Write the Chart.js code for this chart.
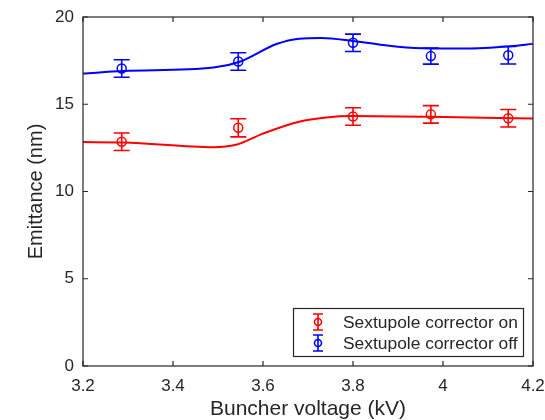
<!DOCTYPE html>
<html>
<head>
<meta charset="utf-8">
<script src="https://cdn.jsdelivr.net/npm/chart.js@4"></script>
<style>
  html, body { margin: 0; padding: 0; background: #fff; }
  #wrap { width: 545px; height: 420px; }
</style>
</head>
<body>
<div id="wrap"><canvas id="chart" width="545" height="420"></canvas></div>
<script>
// measured points with error bars
const voltage = [3.286, 3.545, 3.8, 3.973, 4.145];
const emitOn = [12.85, 13.65, 14.3, 14.42, 14.2];
const errOn = [0.5, 0.52, 0.5, 0.5, 0.5];
const emitOff = [17.05, 17.45, 18.52, 17.76, 17.81];
const errOff = [0.5, 0.5, 0.5, 0.46, 0.5];

// fitted curves
const curveOnX = [3.2, 3.29, 3.49, 3.54, 3.6, 3.68, 3.74, 3.8, 3.97, 4.2];
const curveOnY = [12.83, 12.81, 12.54, 12.68, 13.32, 14.0, 14.24, 14.32, 14.28, 14.18];
const curveOffX = [3.2, 3.29, 3.49, 3.55, 3.63, 3.68, 3.73, 3.8, 3.9, 3.97, 4.05, 4.15, 4.2];
const curveOffY = [16.76, 16.9, 17.1, 17.45, 18.45, 18.76, 18.8, 18.63, 18.29, 18.2, 18.2, 18.33, 18.46];

const xTicks = [3.2, 3.4, 3.6, 3.8, 4, 4.2];
const yTicks = [0, 5, 10, 15, 20];

const seriesNames = ["Sextupole corrector on", "Sextupole corrector off"];
const RED = "#ff0000";
const BLUE = "#0000ff";
const AXIS = "#262626";
const FONT = "'Liberation Sans', Arial, Helvetica, sans-serif";

const toXY = (xs, ys) => xs.map((x, i) => ({ x: x, y: ys[i] }));

const errorBars = {
  id: "errorBars",
  afterDatasetsDraw(chart) {
    const ctx = chart.ctx;
    const xs = chart.scales.x;
    const ys = chart.scales.y;
    const sets = [
      { y: emitOn, e: errOn, c: RED },
      { y: emitOff, e: errOff, c: BLUE },
    ];
    ctx.save();
    ctx.lineWidth = 1.6;
    sets.forEach((s) => {
      ctx.strokeStyle = s.c;
      voltage.forEach((v, i) => {
        const px = xs.getPixelForValue(v);
        const top = ys.getPixelForValue(s.y[i] + s.e[i]);
        const bot = ys.getPixelForValue(s.y[i] - s.e[i]);
        ctx.beginPath();
        ctx.moveTo(px, top);
        ctx.lineTo(px, bot);
        ctx.moveTo(px - 8, top);
        ctx.lineTo(px + 8, top);
        ctx.moveTo(px - 8, bot);
        ctx.lineTo(px + 8, bot);
        ctx.stroke();
      });
    });
    ctx.restore();
  },
};

const frame = {
  id: "frame",
  afterDraw(chart) {
    const ctx = chart.ctx;
    const a = chart.chartArea;
    const xs = chart.scales.x;
    const ys = chart.scales.y;
    ctx.save();
    ctx.strokeStyle = AXIS;
    ctx.lineWidth = 1.2;
    ctx.strokeRect(a.left, a.top, a.right - a.left, a.bottom - a.top);
    ctx.beginPath();
    xTicks.forEach((v) => {
      const p = xs.getPixelForValue(v);
      ctx.moveTo(p, a.bottom);
      ctx.lineTo(p, a.bottom - 5);
      ctx.moveTo(p, a.top);
      ctx.lineTo(p, a.top + 5);
    });
    yTicks.forEach((v) => {
      const p = ys.getPixelForValue(v);
      ctx.moveTo(a.left, p);
      ctx.lineTo(a.left + 5, p);
      ctx.moveTo(a.right, p);
      ctx.lineTo(a.right - 5, p);
    });
    ctx.stroke();

    // legend box
    const lx = 293, ly = 308, lw = 230, lh = 48;
    ctx.fillStyle = "#fff";
    ctx.fillRect(lx, ly, lw, lh);
    ctx.lineWidth = 1.2;
    ctx.strokeRect(lx + 0.5, ly + 0.5, lw, lh);
    const rows = [
      { t: seriesNames[0], c: RED, y: 322 },
      { t: seriesNames[1], c: BLUE, y: 343 },
    ];
    ctx.font = "17.4px " + FONT;
    ctx.textBaseline = "middle";
    rows.forEach((r) => {
      ctx.strokeStyle = r.c;
      ctx.lineWidth = 1.6;
      ctx.beginPath();
      ctx.moveTo(318, r.y - 8);
      ctx.lineTo(318, r.y + 8);
      ctx.moveTo(313, r.y - 8);
      ctx.lineTo(323, r.y - 8);
      ctx.moveTo(313, r.y + 8);
      ctx.lineTo(323, r.y + 8);
      ctx.stroke();
      ctx.beginPath();
      ctx.arc(318, r.y, 3.5, 0, Math.PI * 2);
      ctx.stroke();
      ctx.fillStyle = AXIS;
      ctx.fillText(r.t, 343, r.y + 1);
    });
    ctx.restore();
  },
};

new Chart(document.getElementById("chart"), {
  type: "scatter",
  data: {
    datasets: [
      {
        data: toXY(curveOnX, curveOnY),
        showLine: true,
        borderColor: RED,
        borderWidth: 2,
        pointRadius: 0,
        cubicInterpolationMode: "monotone",
      },
      {
        data: toXY(curveOffX, curveOffY),
        showLine: true,
        borderColor: BLUE,
        borderWidth: 2,
        pointRadius: 0,
        cubicInterpolationMode: "monotone",
      },
      {
        data: toXY(voltage, emitOn),
        borderColor: RED,
        backgroundColor: "rgba(0,0,0,0)",
        pointRadius: 4.5,
        borderWidth: 1.5,
      },
      {
        data: toXY(voltage, emitOff),
        borderColor: BLUE,
        backgroundColor: "rgba(0,0,0,0)",
        pointRadius: 4.5,
        borderWidth: 1.5,
      },
    ],
  },
  plugins: [errorBars, frame],
  options: {
    responsive: false,
    animation: false,
    clip: false,
    layout: { padding: { top: 17, right: 12, left: 0, bottom: 0 } },
    plugins: {
      legend: { display: false },
      tooltip: { enabled: false },
    },
    scales: {
      x: {
        type: "linear",
        min: 3.2,
        max: 4.2,
        afterBuildTicks: (s) => {
          s.ticks = xTicks.map((v) => ({ value: v }));
        },
        afterFit: (s) => {
          s.height = 54;
          s.paddingLeft = 0;
          s.paddingRight = 0;
        },
        grid: { display: false, drawTicks: false },
        border: { display: false },
        ticks: {
          color: AXIS,
          font: { family: FONT, size: 17 },
          padding: 10,
          maxRotation: 0,
          callback: (v) => String(Number(v.toFixed(1))),
        },
        title: {
          display: true,
          text: "Buncher voltage (kV)",
          color: AXIS,
          font: { family: FONT, size: 21, lineHeight: 1.0 },
          padding: { top: 0, bottom: 0 },
        },
      },
      y: {
        type: "linear",
        min: 0,
        max: 20,
        afterBuildTicks: (s) => {
          s.ticks = yTicks.map((v) => ({ value: v }));
        },
        afterFit: (s) => {
          s.width = 83;
          s.paddingTop = 0;
          s.paddingBottom = 0;
        },
        grid: { display: false, drawTicks: false },
        border: { display: false },
        ticks: {
          color: AXIS,
          font: { family: FONT, size: 17 },
          padding: 9,
        },
        title: {
          display: true,
          text: "Emittance (nm)",
          color: AXIS,
          font: { family: FONT, size: 20 },
          padding: { top: 24, bottom: 0 },
        },
      },
    },
  },
});
</script>
</body>
</html>
